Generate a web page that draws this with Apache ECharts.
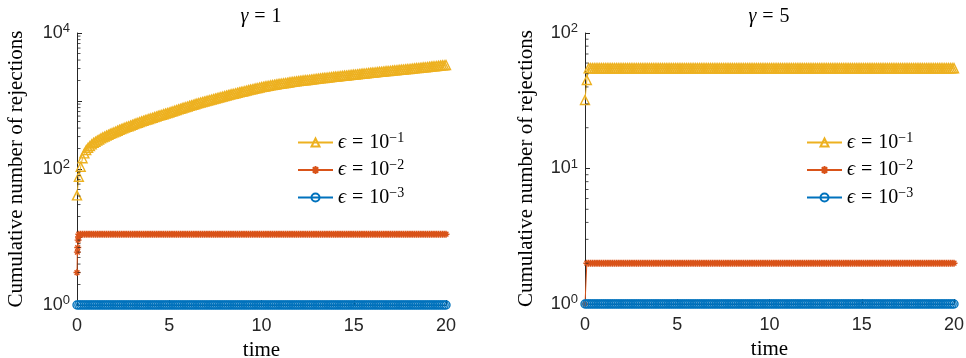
<!DOCTYPE html>
<html><head><meta charset="utf-8">
<script src="https://cdn.jsdelivr.net/npm/echarts@6/dist/echarts.min.js"></script>
<style>html,body{margin:0;padding:0;background:#fff}#c{width:966px;height:358px}</style>
</head><body><div id="c"></div>
<script>
// ---------- data ----------
const time = [
0,0.1,0.2,0.3,0.4,0.5,0.6,0.7,0.8,0.9,
1,1.1,1.2,1.3,1.4,1.5,1.6,1.7,1.8,1.9,
2,2.1,2.2,2.3,2.4,2.5,2.6,2.7,2.8,2.9,
3,3.1,3.2,3.3,3.4,3.5,3.6,3.7,3.8,3.9,
4,4.1,4.2,4.3,4.4,4.5,4.6,4.7,4.8,4.9,
5,5.1,5.2,5.3,5.4,5.5,5.6,5.7,5.8,5.9,
6,6.1,6.2,6.3,6.4,6.5,6.6,6.7,6.8,6.9,
7,7.1,7.2,7.3,7.4,7.5,7.6,7.7,7.8,7.9,
8,8.1,8.2,8.3,8.4,8.5,8.6,8.7,8.8,8.9,
9,9.1,9.2,9.3,9.4,9.5,9.6,9.7,9.8,9.9,
10,10.1,10.2,10.3,10.4,10.5,10.6,10.7,10.8,10.9,
11,11.1,11.2,11.3,11.4,11.5,11.6,11.7,11.8,11.9,
12,12.1,12.2,12.3,12.4,12.5,12.6,12.7,12.8,12.9,
13,13.1,13.2,13.3,13.4,13.5,13.6,13.7,13.8,13.9,
14,14.1,14.2,14.3,14.4,14.5,14.6,14.7,14.8,14.9,
15,15.1,15.2,15.3,15.4,15.5,15.6,15.7,15.8,15.9,
16,16.1,16.2,16.3,16.4,16.5,16.6,16.7,16.8,16.9,
17,17.1,17.2,17.3,17.4,17.5,17.6,17.7,17.8,17.9,
18,18.1,18.2,18.3,18.4,18.5,18.6,18.7,18.8,18.9,
19,19.1,19.2,19.3,19.4,19.5,19.6,19.7,19.8,19.9,
20];

// gamma = 1, epsilon = 1e-1
const leftEps1 = [
41,77,108,144,170,190,205,218,230,242,
252,262,272,282,292,301,310,319,328,337,
346,356,366,376,386,396,406,416,426,436,
446,457,468,479,490,501,512,523,534,545,
556,568,580,592,604,616,628,640,652,664,
676,691,707,722,738,753,768,784,799,815,
830,847,864,881,898,915,932,949,966,983,
1000,1018,1036,1054,1072,1090,1108,1126,1144,1162,
1180,1200,1220,1240,1260,1280,1300,1320,1340,1360,
1380,1402,1424,1446,1468,1490,1512,1534,1556,1578,
1600,1619,1638,1657,1676,1695,1714,1733,1752,1771,
1790,1807,1824,1841,1858,1875,1892,1909,1926,1943,
1960,1976,1992,2008,2024,2040,2056,2072,2088,2104,
2120,2136,2152,2168,2184,2200,2216,2232,2248,2264,
2280,2296,2312,2328,2344,2360,2376,2392,2408,2424,
2440,2457,2474,2491,2508,2525,2542,2559,2576,2593,
2610,2627,2644,2661,2678,2695,2712,2729,2746,2763,
2780,2798,2816,2834,2852,2870,2888,2906,2924,2942,
2960,2980,3000,3020,3040,3060,3080,3100,3120,3140,
3160,3182,3204,3226,3248,3270,3292,3314,3336,3358,
3380];

// gamma = 1, epsilon = 1e-2 (on the time grid) + extra early samples
const leftEps2 = [
3,11,11,11,11,11,11,11,11,11,
11,11,11,11,11,11,11,11,11,11,
11,11,11,11,11,11,11,11,11,11,
11,11,11,11,11,11,11,11,11,11,
11,11,11,11,11,11,11,11,11,11,
11,11,11,11,11,11,11,11,11,11,
11,11,11,11,11,11,11,11,11,11,
11,11,11,11,11,11,11,11,11,11,
11,11,11,11,11,11,11,11,11,11,
11,11,11,11,11,11,11,11,11,11,
11,11,11,11,11,11,11,11,11,11,
11,11,11,11,11,11,11,11,11,11,
11,11,11,11,11,11,11,11,11,11,
11,11,11,11,11,11,11,11,11,11,
11,11,11,11,11,11,11,11,11,11,
11,11,11,11,11,11,11,11,11,11,
11,11,11,11,11,11,11,11,11,11,
11,11,11,11,11,11,11,11,11,11,
11,11,11,11,11,11,11,11,11,11,
11,11,11,11,11,11,11,11,11,11,
11];
const leftEps2EarlyTime = [0.02,0.04,0.06,0.08];
const leftEps2EarlyValues = [6,7,9,10];

// gamma = 1, epsilon = 1e-3
const leftEps3 = [
1,1,1,1,1,1,1,1,1,1, 1,1,1,1,1,1,1,1,1,1,
1,1,1,1,1,1,1,1,1,1, 1,1,1,1,1,1,1,1,1,1,
1,1,1,1,1,1,1,1,1,1, 1,1,1,1,1,1,1,1,1,1,
1,1,1,1,1,1,1,1,1,1, 1,1,1,1,1,1,1,1,1,1,
1,1,1,1,1,1,1,1,1,1, 1,1,1,1,1,1,1,1,1,1,
1,1,1,1,1,1,1,1,1,1, 1,1,1,1,1,1,1,1,1,1,
1,1,1,1,1,1,1,1,1,1, 1,1,1,1,1,1,1,1,1,1,
1,1,1,1,1,1,1,1,1,1, 1,1,1,1,1,1,1,1,1,1,
1,1,1,1,1,1,1,1,1,1, 1,1,1,1,1,1,1,1,1,1,
1,1,1,1,1,1,1,1,1,1, 1,1,1,1,1,1,1,1,1,1,
1];

// gamma = 5, epsilon = 1e-1
const rightEps1 = [
32,45,55,55,55,55,55,55,55,55,
55,55,55,55,55,55,55,55,55,55, 55,55,55,55,55,55,55,55,55,55,
55,55,55,55,55,55,55,55,55,55, 55,55,55,55,55,55,55,55,55,55,
55,55,55,55,55,55,55,55,55,55, 55,55,55,55,55,55,55,55,55,55,
55,55,55,55,55,55,55,55,55,55, 55,55,55,55,55,55,55,55,55,55,
55,55,55,55,55,55,55,55,55,55, 55,55,55,55,55,55,55,55,55,55,
55,55,55,55,55,55,55,55,55,55, 55,55,55,55,55,55,55,55,55,55,
55,55,55,55,55,55,55,55,55,55, 55,55,55,55,55,55,55,55,55,55,
55,55,55,55,55,55,55,55,55,55, 55,55,55,55,55,55,55,55,55,55,
55,55,55,55,55,55,55,55,55,55, 55,55,55,55,55,55,55,55,55,55,
55,55,55,55,55,55,55,55,55,55,
55];

// gamma = 5, epsilon = 1e-2
const rightEps2 = [
1,2,2,2,2,2,2,2,2,2,
2,2,2,2,2,2,2,2,2,2, 2,2,2,2,2,2,2,2,2,2,
2,2,2,2,2,2,2,2,2,2, 2,2,2,2,2,2,2,2,2,2,
2,2,2,2,2,2,2,2,2,2, 2,2,2,2,2,2,2,2,2,2,
2,2,2,2,2,2,2,2,2,2, 2,2,2,2,2,2,2,2,2,2,
2,2,2,2,2,2,2,2,2,2, 2,2,2,2,2,2,2,2,2,2,
2,2,2,2,2,2,2,2,2,2, 2,2,2,2,2,2,2,2,2,2,
2,2,2,2,2,2,2,2,2,2, 2,2,2,2,2,2,2,2,2,2,
2,2,2,2,2,2,2,2,2,2, 2,2,2,2,2,2,2,2,2,2,
2,2,2,2,2,2,2,2,2,2, 2,2,2,2,2,2,2,2,2,2,
2,2,2,2,2,2,2,2,2,2,
2];

// gamma = 5, epsilon = 1e-3
const rightEps3 = leftEps3.slice();

const seriesNames = ['eps1','eps2','eps3'];
const legendExponents = ['−1','−2','−3'];
const panelTitles = ['1','5'];
const xTicks = [0,5,10,15,20];
const leftMinorTickValues = [2,3,4,5,6,7,8,9,20,30,40,50,60,70,80,90,200,300,400,500,600,700,800,900,2000,3000,4000,5000,6000,7000,8000,9000];
const rightMinorTickValues = [2,3,4,5,6,7,8,9,20,30,40,50,60,70,80,90];

// ---------- chart ----------
const COLORS = ['#EDB120','#D95319','#0072BD'];
const AX = '#262626';
const SERIF = '"Liberation Serif", "DejaVu Serif", serif';
const SANS = '"Liberation Sans", Arial, sans-serif';
const ASTERISK = 'path://M5 0L5 10M0 5L10 5M1.6 1.6L8.4 8.4M1.6 8.4L8.4 1.6';
const SYMBOLS = ['triangle', ASTERISK, 'circle'];
const SIZES = [9, 7, 8];

function pairs(t, v) { return t.map((x, i) => [x, v[i]]); }
const leftEps2Data = pairs(time, leftEps2);
leftEps2Data.splice(1, 0, ...pairs(leftEps2EarlyTime, leftEps2EarlyValues));

function mkSeries(k, gi, data) {
  return {
    type: 'line', name: seriesNames[k], xAxisIndex: gi, yAxisIndex: gi,
    data: data, color: COLORS[k], clip: false, silent: true, animation: false,
    symbol: SYMBOLS[k], symbolSize: SIZES[k], showSymbol: true, showAllSymbol: true,
    itemStyle: { color: 'rgba(0,0,0,0)', borderColor: COLORS[k], borderWidth: 1.4 },
    lineStyle: { color: COLORS[k], width: 1 },
    emphasis: { disabled: true }, z: 2
  };
}
function minorTicks(gi, vals) {
  return {
    type: 'scatter', xAxisIndex: gi, yAxisIndex: gi, silent: true, animation: false, clip: false,
    data: vals.map(v => [0, v]), symbol: 'rect', symbolSize: [3, 1], symbolOffset: [2, 0],
    itemStyle: { color: AX }, z: 5
  };
}
function xAxis(gi) {
  return {
    type: 'value', gridIndex: gi, min: 0, max: 20, interval: 5,
    name: 'time', nameLocation: 'middle', nameGap: 33,
    nameTextStyle: { fontFamily: SERIF, fontSize: 21, color: '#000' },
    axisLine: { lineStyle: { color: AX, width: 1 } },
    axisTick: { inside: true, length: 5, lineStyle: { color: AX } },
    axisLabel: { fontFamily: SANS, fontSize: 18, color: AX, margin: 12, showMinLabel: true, showMaxLabel: true,
      formatter: v => xTicks.indexOf(v) >= 0 ? String(v) : '' },
    splitLine: { show: false }
  };
}
function yAxis(gi, max, hideOdd, gap) {
  return {
    type: 'log', logBase: 10, gridIndex: gi, min: 1, max: max,
    name: 'Cumulative number of rejections', nameLocation: 'middle', nameGap: gap,
    nameTextStyle: { fontFamily: SERIF, fontSize: 21, color: '#000' },
    axisLine: { show: true, lineStyle: { color: AX, width: 1 } },
    axisTick: { show: true, inside: true, length: 5, lineStyle: { color: AX } },
    axisLabel: {
      margin: 7, color: AX,
      formatter: v => { const e = Math.round(Math.log10(v)); if (hideOdd && e % 2) return ''; return '{b|10}{s|' + e + '}'; },
      rich: {
        b: { fontFamily: SANS, fontSize: 18, color: AX },
        s: { fontFamily: SANS, fontSize: 13, color: AX, padding: [0, 0, 9, 0] }
      }
    },
    splitLine: { show: false }, minorTick: { show: false }
  };
}
function legend(left) {
  return {
    left: left, top: 131, orient: 'vertical', padding: 0,
    itemWidth: 35, itemHeight: 10, itemGap: 6,
    data: seriesNames, selectedMode: false,
    formatter: n => '{e|ϵ}{q|=}10{s|' + legendExponents[seriesNames.indexOf(n)] + '}',
    textStyle: { fontFamily: SERIF, fontSize: 20, color: '#000',
      rich: {
        e: { fontFamily: SERIF, fontStyle: 'italic', fontSize: 20, color: '#000' },
        q: { fontFamily: SERIF, fontSize: 20, color: '#000', padding: [0, 6, 0, 6] },
        s: { fontFamily: SERIF, fontSize: 14, color: '#000', padding: [0, 0, 9, 0] }
      } }
  };
}
function title(cx, g) {
  return {
    text: '{g|γ}{q|=}' + g, left: cx, top: 7, textAlign: 'center', padding: 0,
    textStyle: { fontFamily: SERIF, fontSize: 20, fontWeight: 'normal', color: '#000',
      rich: {
        g: { fontFamily: SERIF, fontStyle: 'italic', fontSize: 20, color: '#000' },
        q: { fontFamily: SERIF, fontSize: 20, color: '#000', padding: [0, 6, 0, 6] }
      } }
  };
}

const chart = echarts.init(document.getElementById('c'), null, { renderer: 'canvas' });
chart.setOption({
  animation: false,
  backgroundColor: '#fff',
  title: [title(261, panelTitles[0]), title(769, panelTitles[1])],
  legend: [legend(297), legend(806)],
  grid: [
    { left: 77, top: 33, width: 369, height: 272, outerBoundsMode: 'none', containLabel: false },
    { left: 585, top: 33, width: 369, height: 271, outerBoundsMode: 'none', containLabel: false }
  ],
  xAxis: [xAxis(0), xAxis(1)],
  yAxis: [yAxis(0, 10000, true, 50), yAxis(1, 100, false, 48)],
  series: [
    mkSeries(0, 0, pairs(time, leftEps1)),
    mkSeries(1, 0, leftEps2Data),
    mkSeries(2, 0, pairs(time, leftEps3)),
    mkSeries(0, 1, pairs(time, rightEps1)),
    mkSeries(1, 1, pairs(time, rightEps2)),
    mkSeries(2, 1, pairs(time, rightEps3)),
    minorTicks(0, leftMinorTickValues),
    minorTicks(1, rightMinorTickValues)
  ]
});
</script></body></html>
